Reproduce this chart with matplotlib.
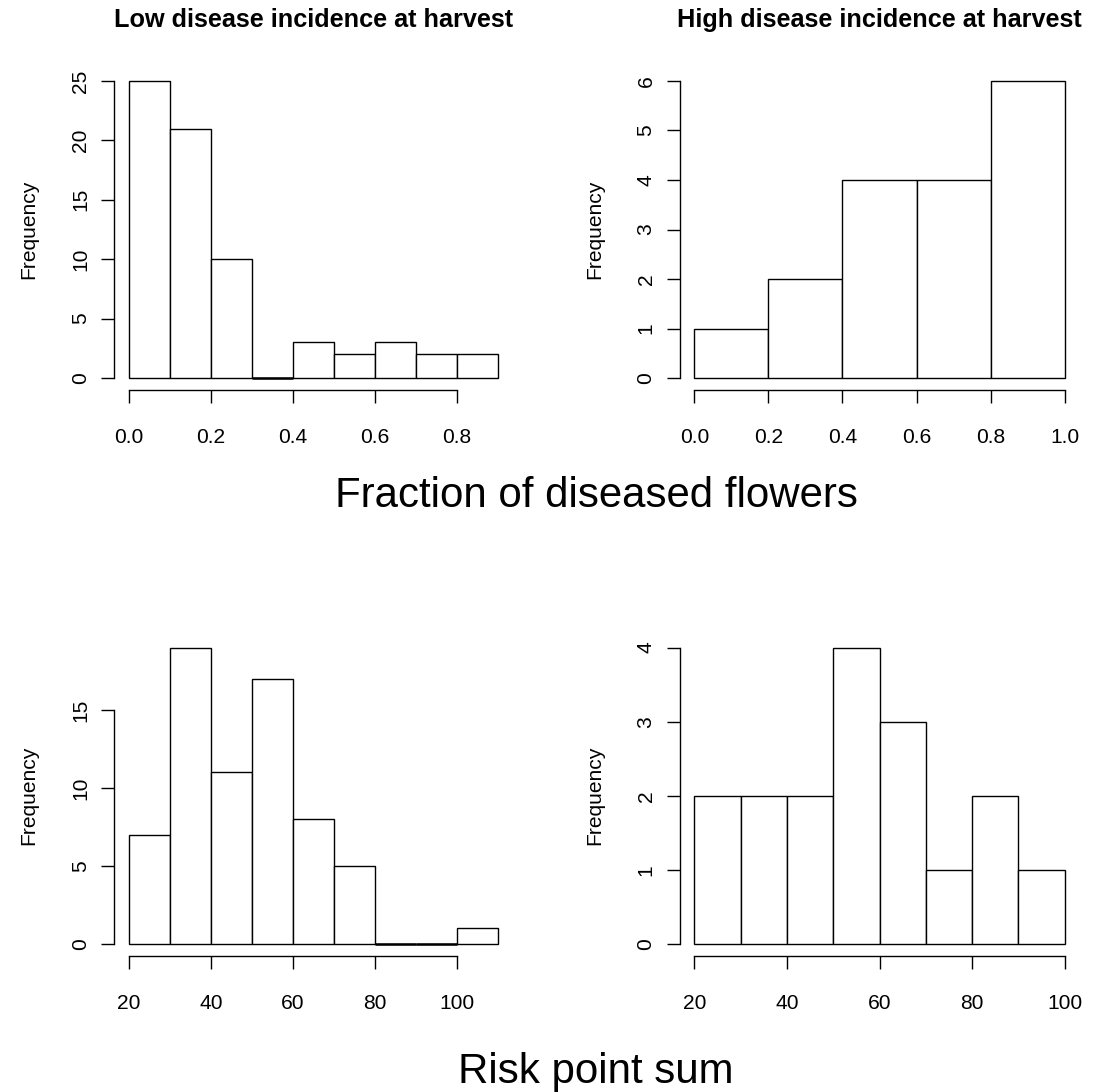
import numpy as np
import matplotlib
matplotlib.use("Agg")
import matplotlib.pyplot as plt

plt.rcParams['font.family'] = ['Liberation Sans', 'DejaVu Sans']

# histogram data (bin edges + counts)
low_frac_edges = [0.0, 0.1, 0.2, 0.3, 0.4, 0.5, 0.6, 0.7, 0.8, 0.9]
low_frac_counts = [25, 21, 10, 0, 3, 2, 3, 2, 2]
high_frac_edges = [0.0, 0.2, 0.4, 0.6, 0.8, 1.0]
high_frac_counts = [1, 2, 4, 4, 6]
low_risk_edges = [20, 30, 40, 50, 60, 70, 80, 90, 100, 110]
low_risk_counts = [7, 19, 11, 17, 8, 5, 0, 0, 1]
high_risk_edges = [20, 30, 40, 50, 60, 70, 80, 90, 100]
high_risk_counts = [2, 2, 2, 4, 3, 1, 2, 1]

frac_ticks_low = [0.0, 0.2, 0.4, 0.6, 0.8]
frac_ticks_high = [0.0, 0.2, 0.4, 0.6, 0.8, 1.0]
risk_ticks = [20, 40, 60, 80, 100]
yticks_tl = [0, 5, 10, 15, 20, 25]
yticks_tr = [0, 1, 2, 3, 4, 5, 6]
yticks_bl = [0, 5, 10, 15]
yticks_br = [0, 1, 2, 3, 4]

titles = ["Low disease incidence at harvest", "High disease incidence at harvest"]

W, H = 1099, 1092
DPI = 100
PX = 72.0 / DPI  # points per pixel
fig = plt.figure(figsize=(W / DPI, H / DPI), dpi=DPI)

LW = 1.0
BASE = 21 * PX  # base font size in points


def add_ax(left, top, right, bottom):
    return fig.add_axes([left / W, 1 - bottom / H, (right - left) / W, (bottom - top) / H])


def r_hist(ax, edges, counts, xticks, xfmt, yticks, width_px):
    edges = np.array(edges, dtype=float)
    counts = np.array(counts)
    ax.bar(edges[:-1], counts, width=np.diff(edges), align='edge',
           facecolor='white', edgecolor='black', linewidth=LW)
    # empty bins show up as a flat (double) line in R
    zero = counts == 0
    if zero.any():
        ax.hlines(np.zeros(zero.sum()), edges[:-1][zero], edges[1:][zero],
                  color='black', linewidth=LW * 1.8)
    lo, hi = edges[0], edges[-1]
    ax.set_xlim(lo - 0.04 * (hi - lo), hi + 0.04 * (hi - lo))
    top = counts.max()
    ax.set_ylim(-0.04 * top, 1.04 * top)
    for s in ['top', 'right']:
        ax.spines[s].set_visible(False)
    ax.spines['left'].set_bounds(yticks[0], yticks[-1])
    ax.spines['bottom'].set_bounds(xticks[0], xticks[-1])
    for s in ['left', 'bottom']:
        ax.spines[s].set_linewidth(LW)
    ax.set_xticks(xticks)
    ax.set_xticklabels([xfmt.format(v) for v in xticks])
    ax.set_yticks(yticks)
    ax.set_yticklabels([str(v) for v in yticks])
    ax.tick_params(axis='both', direction='out', length=12.6 * PX, width=LW,
                   labelsize=BASE)
    ax.tick_params(axis='x', pad=40.7 * PX)
    ax.tick_params(axis='y', pad=15.4 * PX)
    for lbl in ax.get_xticklabels():
        lbl.set_verticalalignment('baseline')
    for lbl in ax.get_yticklabels():
        lbl.set_rotation(90)
        lbl.set_rotation_mode('anchor')
        lbl.set_horizontalalignment('center')
        lbl.set_verticalalignment('baseline')
    ax.text(-79.5 / width_px, 0.5, 'Frequency', transform=ax.transAxes,
            rotation=90, rotation_mode='anchor', ha='center', va='baseline',
            fontsize=BASE)


# pixel boxes of the plot regions
tl = add_ax(114.1, 69.1, 512.9, 389.9)
tr = add_ax(679.6, 69.1, 1079.4, 389.9)
bl = add_ax(114.1, 635.7, 512.9, 955.9)
br = add_ax(679.6, 635.7, 1079.4, 955.9)

r_hist(tl, low_frac_edges, low_frac_counts, frac_ticks_low, "{:.1f}", yticks_tl, 398.8)
r_hist(tr, high_frac_edges, high_frac_counts, frac_ticks_high, "{:.1f}", yticks_tr, 399.8)
r_hist(bl, low_risk_edges, low_risk_counts, risk_ticks, "{:d}", yticks_bl, 398.8)
r_hist(br, high_risk_edges, high_risk_counts, risk_ticks, "{:d}", yticks_br, 399.8)

for ax, t in zip([tl, tr], titles):
    ax.text(0.5, 1 + 41.8 / 320.8, t, transform=ax.transAxes, ha='center',
            va='baseline', fontsize=1.2 * BASE, fontweight='bold')

fig.text(596 / W, 1 - 507 / H, "Fraction of diseased flowers", ha='center',
         va='baseline', fontsize=2 * BASE)
fig.text(595.5 / W, 1 - 1083 / H, "Risk point sum", ha='center',
         va='baseline', fontsize=2 * BASE)

fig.savefig("out.png", dpi=DPI, facecolor='white')
